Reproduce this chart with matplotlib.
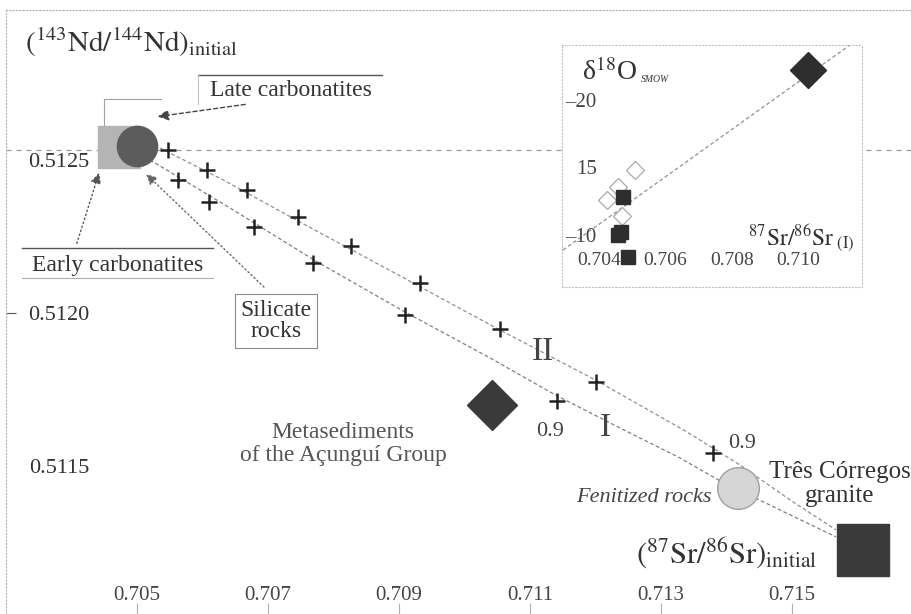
import matplotlib.pyplot as plt

plt.rcParams['font.family'] = ['Liberation Serif', 'DejaVu Serif']
plt.rcParams['mathtext.fontset'] = 'stix'

# ---------------- main diagram: (87Sr/86Sr)i vs (143Nd/144Nd)i ----------------
silicate_sr = [0.70547, 0.70607, 0.70563, 0.70668, 0.70610, 0.70746, 0.70679, 0.70827,
               0.70769, 0.70932, 0.70909, 0.71054, 0.71201, 0.71141, 0.71379]
silicate_nd = [0.512533, 0.512467, 0.512435, 0.512402, 0.512363, 0.512314, 0.512281, 0.512219,
               0.512163, 0.512098, 0.511993, 0.511948, 0.511775, 0.511712, 0.511542]

late_carb_sr, late_carb_nd = [0.70500], [0.512546]
early_carb_sr, early_carb_nd = [0.704725], [0.512542]
metased_sr, metased_nd = [0.710420], [0.511699]
fenite_sr, fenite_nd = [0.714176], [0.511428]
granite_sr, granite_nd = [0.716084], [0.511225]

# mixing curves
curve1_sr = [0.705198, 0.706420, 0.707748, 0.709092, 0.710389, 0.711412,
             0.712374, 0.713290, 0.713901, 0.714817, 0.715672]
curve1_nd = [0.512500, 0.512343, 0.512167, 0.512003, 0.511853, 0.511729,
             0.511624, 0.511526, 0.511451, 0.511356, 0.511268]
curve2_sr = [0.705351, 0.706313, 0.707489, 0.709015, 0.710542, 0.712023,
             0.713397, 0.714206, 0.714969, 0.715672]
curve2_nd = [0.512539, 0.512435, 0.512297, 0.512121, 0.511944, 0.511778,
             0.511611, 0.511503, 0.511389, 0.511291]
ref_nd = 0.512533

main_xticks = [0.705, 0.707, 0.709, 0.711, 0.713, 0.715]
main_yticks = [0.5115, 0.5120, 0.5125]

# ---------------- inset: 87Sr/86Sr vs d18O ----------------
carb_sr = [0.704723, 0.704663, 0.704572, 0.704873]
carb_o = [12.81, 10.22, 10.00, 8.37]
open_sr = [0.705084, 0.704572, 0.704241, 0.704693]
open_o = [14.81, 13.56, 12.59, 11.41]
inset_met_sr, inset_met_o = [0.710295], [22.22]
trend_sr = [0.702916, 0.711651]
trend_o = [8.89, 24.22]

inset_xticks = [0.704, 0.706, 0.708, 0.710]
inset_yticks = [10, 15, 20]
inset_ylabels = ['\u201310', '15', '\u201320']

W, H = 912, 614
DARK = '#3a3a3a'
TXT = '#333333'


def fpx(x, y):
    # pixel position of the 912x614 canvas -> figure fraction
    return (x / W, 1 - y / H)


fig = plt.figure(figsize=(W / 100, H / 100), dpi=100)
fig.patch.set_facecolor('white')

# ----------------- main axes -----------------
ax = fig.add_axes([6 / W, 0, 1 - 6 / W, (H - 10) / H])
ax.set_xlim(0.7030, 0.716832)
ax.set_ylim(0.511016, 0.51299)
for side in ['right', 'bottom']:
    ax.spines[side].set_visible(False)
for side in ['left', 'top']:
    ax.spines[side].set_color('#b0b0b0')
    ax.spines[side].set_linestyle((0, (1, 2)))
    ax.spines[side].set_linewidth(0.8)

ax.set_xticks(main_xticks)
ax.set_xticklabels([f'{v:.3f}' for v in main_xticks])
ax.set_yticks(main_yticks)
ax.set_yticklabels([f'{v:.4f}' for v in main_yticks])
ax.tick_params(axis='x', direction='in', length=8, color='#b0b0b0', pad=-20,
               labelsize=15, labelcolor='#444444')
ax.tick_params(axis='y', direction='in', length=7, color='#555555', pad=-60,
               labelsize=16, labelcolor='#333333')
for i, t in enumerate(ax.yaxis.get_major_ticks()):
    if i != 1:
        t.tick1line.set_visible(False)

ax.axhline(ref_nd, color='#999999', lw=0.9, ls=(0, (4, 4)), zorder=1)

ax.plot(curve1_sr, curve1_nd, color='#808080', lw=0.9, ls=(0, (3, 2)), zorder=2)
ax.plot(curve2_sr, curve2_nd, color='#909090', lw=0.9, ls=(0, (3, 2)), zorder=2)

ax.plot(early_carb_sr, early_carb_nd, 's', ms=30, color='#b4b4b4', zorder=3)
ax.plot(late_carb_sr, late_carb_nd, 'o', ms=29, color='#5c5c5c', zorder=4)
ax.plot(silicate_sr, silicate_nd, '+', ms=12, mew=1.8, color='#222222', zorder=5)
ax.plot(metased_sr, metased_nd, 'D', ms=25, color=DARK, zorder=4)
ax.plot(fenite_sr, fenite_nd, 'o', ms=30, mfc='#d6d6d6', mec='#a0a0a0', mew=1, zorder=4)
ax.plot(granite_sr, granite_nd, 's', ms=38, color=DARK, zorder=4)

# ----------------- labels and arrows -----------------
fig.text(*fpx(25, 42), r'$(^{143}\mathrm{Nd}/^{144}\mathrm{Nd})_{\mathrm{initial}}$',
         fontsize=21, color=TXT, va='center', ha='left')
fig.text(*fpx(727, 553), r'$(^{87}\mathrm{Sr}/^{86}\mathrm{Sr})_{\mathrm{initial}}$',
         fontsize=22, color=TXT, va='center', ha='center')

fig.text(*fpx(291, 91), 'Late carbonatites', fontsize=17, color=TXT, ha='center', va='center')
ax.add_line(plt.Line2D(*zip(fpx(198, 75), fpx(382, 75)), transform=fig.transFigure,
                       color='#555555', lw=1))
ax.add_line(plt.Line2D(*zip(fpx(198, 75), fpx(198, 104)), transform=fig.transFigure,
                       color='#c0c0c0', lw=0.8))
ax.add_line(plt.Line2D(*zip(fpx(104, 126), fpx(104, 99), fpx(161, 99)),
                       transform=fig.transFigure, color='#a0a0a0', lw=0.8))
ax.annotate('', xy=fpx(155, 117), xytext=fpx(248, 104), xycoords='figure fraction',
            arrowprops=dict(arrowstyle='-|>', ls=(0, (3, 2)), color='#444444', lw=1,
                            mutation_scale=16))

fig.text(*fpx(118, 265), 'Early carbonatites', fontsize=17, color=TXT, ha='center', va='center')
ax.add_line(plt.Line2D(*zip(fpx(22, 248), fpx(213, 248)), transform=fig.transFigure,
                       color='#555555', lw=1))
ax.add_line(plt.Line2D(*zip(fpx(22, 278), fpx(213, 278)), transform=fig.transFigure,
                       color='#b0b0b0', lw=0.8))
ax.annotate('', xy=fpx(100, 170), xytext=fpx(76, 246), xycoords='figure fraction',
            arrowprops=dict(arrowstyle='-|>', ls=(0, (1, 2)), color='#555555', lw=1,
                            mutation_scale=16))

fig.text(*fpx(276, 321), 'Silicate\nrocks', fontsize=17, color=TXT, ha='center', va='center',
         linespacing=1.0,
         bbox=dict(boxstyle='square,pad=0.25', fc='white', ec='#8a8a8a', lw=0.8))
ax.annotate('', xy=fpx(144, 172), xytext=fpx(266, 289), xycoords='figure fraction',
            arrowprops=dict(arrowstyle='-|>', ls=(0, (1, 2)), color='#666666', lw=1,
                            mutation_scale=16))

fig.text(*fpx(543, 352), 'II', fontsize=24, color='#444444', ha='center', va='center')
fig.text(*fpx(605, 428), 'I', fontsize=24, color='#444444', ha='center', va='center')
fig.text(*fpx(550, 432), '0.9', fontsize=16, color='#444444', ha='center', va='center')
fig.text(*fpx(742, 443), '0.9', fontsize=16, color='#444444', ha='center', va='center')

fig.text(*fpx(343, 444), 'Metasediments\nof the Açunguí Group', fontsize=17, color='#555555',
         ha='center', va='center', linespacing=1.15)
fig.text(*fpx(712, 497), 'Fenitized rocks', fontsize=16, style='italic', color='#444444',
         ha='right', va='center')
fig.text(*fpx(840, 484), 'Três Córregos\ngranite', fontsize=18, color=TXT,
         ha='center', va='center', linespacing=1.1)

# ----------------- inset -----------------
ins = fig.add_axes([562 / W, 1 - 287 / H, 300 / W, 242 / H])
ins.set_facecolor('white')
ins.set_xlim(0.702886, 0.711928)
ins.set_ylim(6.15, 24.07)
for side in ins.spines:
    ins.spines[side].set_color('#c0c0c0')
    ins.spines[side].set_linestyle((0, (1, 2)))
    ins.spines[side].set_linewidth(0.8)

ins.set_xticks(inset_xticks)
ins.set_xticklabels([f'{v:.3f}' for v in inset_xticks])
ins.set_yticks(inset_yticks)
ins.set_yticklabels(inset_ylabels)
ins.tick_params(axis='x', length=0, pad=-25, labelsize=14, labelcolor='#444444')
ins.tick_params(axis='y', length=0, pad=-25, labelsize=15, labelcolor='#444444')

ins.plot(trend_sr, trend_o, color='#909090', lw=0.9, ls=(0, (3, 2)), zorder=1)
ins.plot(open_sr, open_o, 'D', ms=9, mfc='none', mec='#aaaaaa', mew=0.9, zorder=2)
ins.plot(carb_sr, carb_o, 's', ms=10, color='#2e2e2e', zorder=3)
ins.plot(inset_met_sr, inset_met_o, 'D', ms=18, color='#2e2e2e', zorder=3)

fig.text(*fpx(582, 72), 'δ$^{18}$O', fontsize=20, color=TXT, ha='left', va='center')
fig.text(*fpx(641, 80), 'SMOW', fontsize=7, style='italic', color=TXT, ha='left', va='center')
fig.text(*fpx(748, 238), r'$^{87}\mathrm{Sr}/^{86}\mathrm{Sr}_{\ \mathrm{(I)}}$', fontsize=17,
         color=TXT, ha='left', va='center')

fig.savefig('out.png', dpi=100, facecolor='white')
